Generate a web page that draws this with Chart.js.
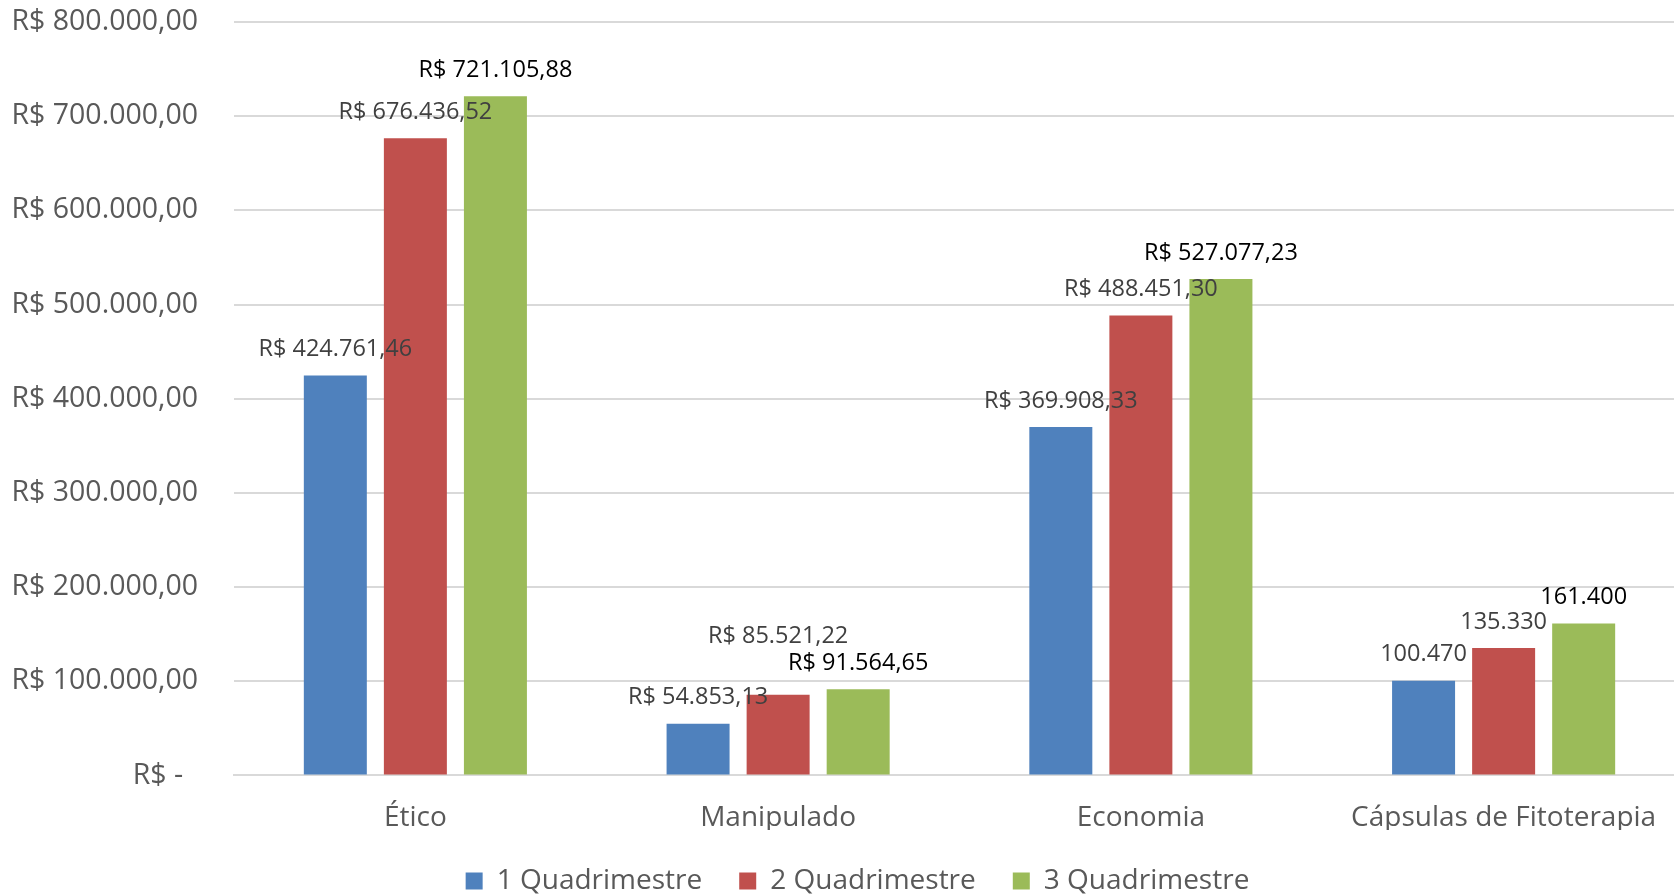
<!DOCTYPE html>
<html>
<head>
<meta charset="utf-8">
<script src="https://cdn.jsdelivr.net/npm/chart.js@4"></script>
<style>
  html, body { margin: 0; padding: 0; background: #fff; overflow: hidden; }
  #wrap { width: 1674px; height: 896px; overflow: hidden; }
</style>
</head>
<body>
<div id="wrap"><canvas id="salesChart" width="1685" height="896"></canvas></div>
<script>
const categories = ['Ético', 'Manipulado', 'Economia', 'Cápsulas de Fitoterapia'];
const seriesNames = ['1 Quadrimestre', '2 Quadrimestre', '3 Quadrimestre'];
const q1 = [424761.46, 54853.13, 369908.33, 100470];
const q2 = [676436.52, 85521.22, 488451.30, 135330];
const q3 = [721105.88, 91564.65, 527077.23, 161400];
const yTicks = [0, 100000, 200000, 300000, 400000, 500000, 600000, 700000, 800000];

const FONT = "'Open Sans', 'Noto Sans', sans-serif";

// 1234567.8 -> "1.234.567,80"
function brNumber(v, decimals) {
  const parts = v.toFixed(decimals).split('.');
  const int = parts[0].replace(/\B(?=(\d{3})+(?!\d))/g, '.');
  return decimals ? int + ',' + parts[1] : int;
}

function labelText(value, catIndex) {
  // the capsules column is formatted as plain integers in the source sheet
  if (catIndex === 3) return brNumber(value, 0);
  return 'R$ ' + brNumber(value, 2);
}

const valueLabels = {
  id: 'valueLabels',
  afterLayout(chart) {
    // legend sits a bit right of the canvas centre in the original
    chart.legend.left += 15;
    chart.legend.right += 15;
  },
  afterDatasetsDraw(chart) {
    const ctx = chart.ctx;
    ctx.save();
    ctx.font = '23.5px ' + FONT;
    ctx.textAlign = 'center';
    ctx.textBaseline = 'middle';
    chart.data.datasets.forEach((ds, di) => {
      const meta = chart.getDatasetMeta(di);
      meta.data.forEach((bar, i) => {
        let lift = 26;
        if (di === 1 && i === 1) lift = 59; // pushed up to clear the neighbour
        ctx.fillStyle = di === 2 ? '#000000' : '#404040';
        ctx.fillText(labelText(ds.data[i], i), bar.x, bar.y - lift);
      });
    });
    ctx.restore();
  }
};

new Chart(document.getElementById('salesChart').getContext('2d'), {
  type: 'bar',
  data: {
    labels: categories,
    datasets: [
      { label: seriesNames[0], data: q1, backgroundColor: '#4f81bd' },
      { label: seriesNames[1], data: q2, backgroundColor: '#c0504d' },
      { label: seriesNames[2], data: q3, backgroundColor: '#9bbb59' }
    ]
  },
  options: {
    responsive: false,
    animation: false,
    categoryPercentage: 0.662,
    barPercentage: 0.787,
    layout: { padding: { top: 22, right: 0, left: 0, bottom: -9 } },
    plugins: {
      legend: {
        position: 'bottom',
        labels: {
          color: '#595959',
          font: { family: FONT, size: 28 },
          boxWidth: 17,
          boxHeight: 17,
          padding: 37
        }
      },
      tooltip: { enabled: false }
    },
    scales: {
      x: {
        afterFit(scale) {
          scale.paddingLeft = 0;
          scale.paddingRight = 0;
          scale.height -= 23;
        },
        grid: { display: false },
        border: { color: '#d9d9d9', width: 2 },
        ticks: { color: '#595959', font: { family: FONT, size: 28 }, padding: 18 }
      },
      y: {
        min: 0,
        max: 800000,
        afterFit(scale) {
          scale.width = 234;
          scale.paddingTop = 0;
          scale.paddingBottom = 0;
        },
        afterBuildTicks(scale) { scale.ticks = yTicks.map(v => ({ value: v })); },
        grid: { color: '#d9d9d9', lineWidth: 2, drawTicks: false },
        border: { display: false },
        ticks: {
          color: '#595959',
          padding: 36,
          font: { family: FONT, size: 28.5 },
          callback: v => v === 0 ? 'R$ -  ' : 'R$ ' + brNumber(v, 2)
        }
      }
    }
  },
  plugins: [valueLabels]
});
</script>
</body>
</html>
